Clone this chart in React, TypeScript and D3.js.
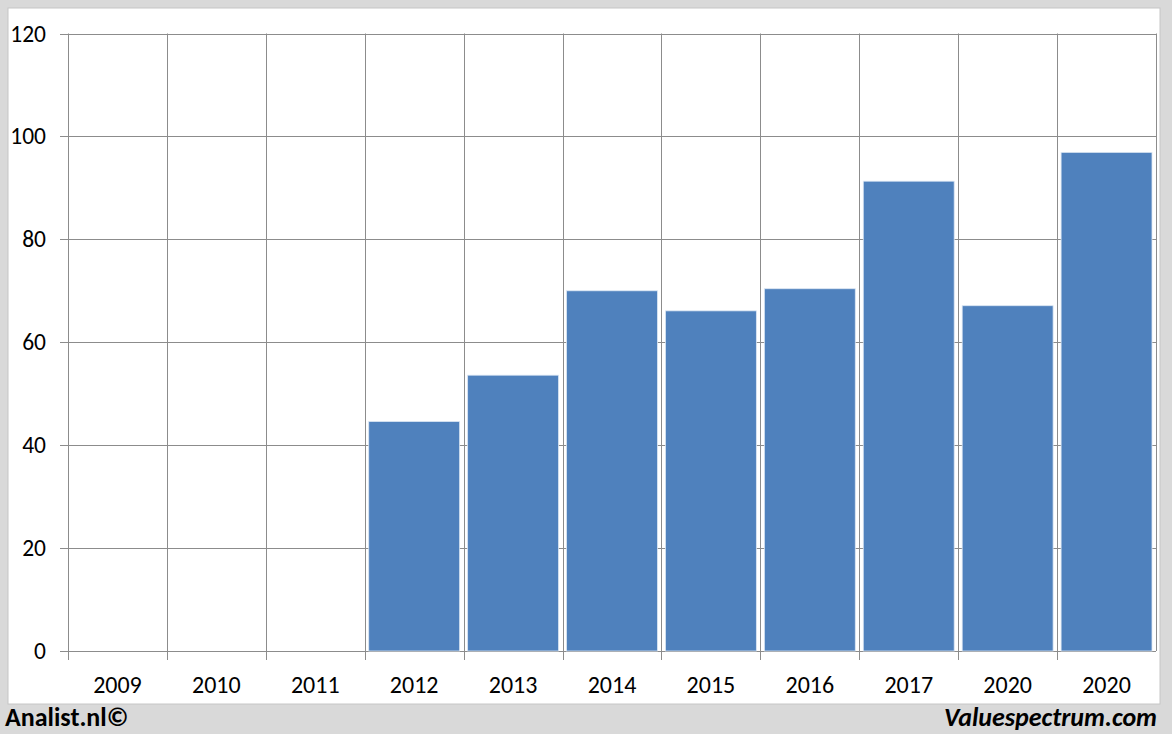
import React from "react";
import * as d3 from "d3";

const categories = ["2009", "2010", "2011", "2012", "2013", "2014", "2015", "2016", "2017", "2020", "2020"];
const values: (number | null)[] = [null, null, null, 44.6, 53.6, 70.0, 66.1, 70.4, 91.3, 67.1, 96.9];
const yTicks = [0, 20, 40, 60, 80, 100, 120];

const W = 1172;
const H = 734;
const left = 68;
const right = 1156;
const top = 33.5;
const bottom = 651;

export default function App() {
  const xb = d3.scaleLinear().domain([0, categories.length]).range([left, right]);
  const y = d3.scaleLinear().domain([0, 120]).range([bottom, top]);
  const font = "Calibri, Carlito, Lato, 'Open Sans', sans-serif";
  const grid = "#8c8c8c";
  return (
    <svg width={W} height={H} style={{ position: "absolute", left: 0, top: 0 }}>
      <rect x={0} y={0} width={W} height={H} fill="#d9d9d9" />
      <rect x={8} y={8} width={1152} height={696} fill="#ffffff" stroke="#c6c6c6" />
      {yTicks.map((t) => (
        <g key={t}>
          <line x1={60} x2={right} y1={Math.round(y(t)) + 0.5} y2={Math.round(y(t)) + 0.5} stroke={grid} strokeWidth={1} />
          <text x={46} y={y(t) + 8} textAnchor="end" fontFamily={font} fontSize={23.5} fill="#000">{t}</text>
        </g>
      ))}
      {d3.range(categories.length + 1).map((i) => (
        <line key={i} x1={Math.round(xb(i)) + 0.5} x2={Math.round(xb(i)) + 0.5} y1={top} y2={i === categories.length ? bottom : 660} stroke={grid} strokeWidth={1} />
      ))}
      {values.map((v, i) =>
        v == null ? null : (
          <rect key={i} x={xb(i) + 4} y={y(v)} width={xb(1) - xb(0) - 8} height={bottom - y(v)} fill="#4f81bd" stroke="#dbe6f3" strokeWidth={0.8} />
        )
      )}
      {categories.map((c, i) => (
        <text key={i} x={(xb(i) + xb(i + 1)) / 2} y={693} textAnchor="middle" fontFamily={font} fontSize={24} fill="#000">{c}</text>
      ))}
      <text x={5} y={726} fontFamily={font} fontSize={26} fontWeight="bold" fill="#000">Analist.nl©</text>
      <text x={1157} y={726} textAnchor="end" fontFamily={font} fontSize={26} fontWeight="bold" fontStyle="italic" fill="#000">Valuespectrum.com</text>
    </svg>
  );
}
